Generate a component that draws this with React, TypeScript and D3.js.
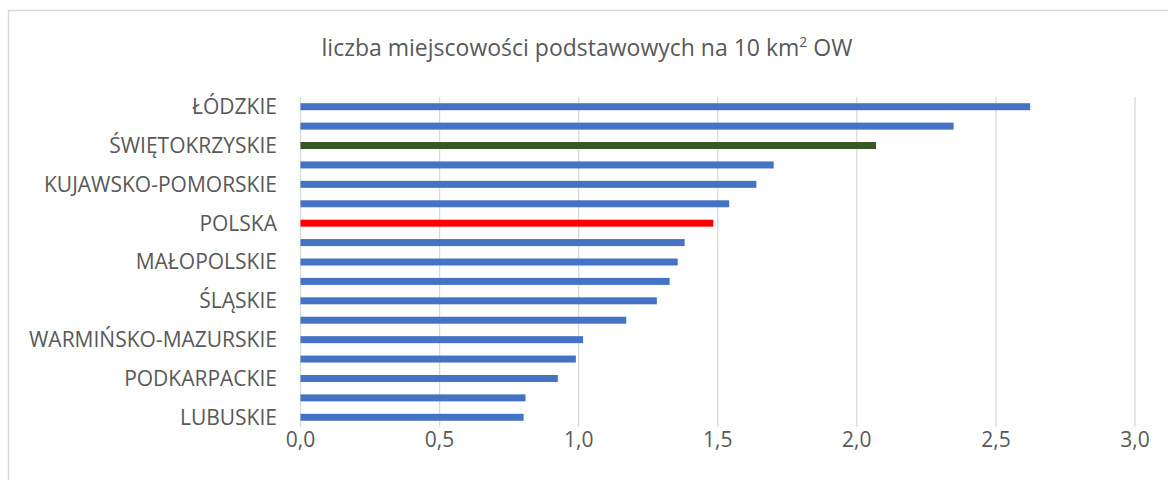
import React from "react";
import * as d3 from "d3";

const categories = [
  "ŁÓDZKIE",
  "MAZOWIECKIE",
  "ŚWIĘTOKRZYSKIE",
  "LUBELSKIE",
  "KUJAWSKO-POMORSKIE",
  "PODLASKIE",
  "POLSKA",
  "WIELKOPOLSKIE",
  "MAŁOPOLSKIE",
  "OPOLSKIE",
  "ŚLĄSKIE",
  "DOLNOŚLĄSKIE",
  "WARMIŃSKO-MAZURSKIE",
  "POMORSKIE",
  "PODKARPACKIE",
  "ZACHODNIOPOMORSKIE",
  "LUBUSKIE",
];

const values = [
  2.623, 2.348, 2.069, 1.701, 1.639, 1.541, 1.484, 1.381, 1.356, 1.327, 1.281,
  1.171, 1.016, 0.99, 0.925, 0.809, 0.802,
];

const xTicks = [0, 0.5, 1, 1.5, 2, 2.5, 3];
const xTickLabels = ["0,0", "0,5", "1,0", "1,5", "2,0", "2,5", "3,0"];

const highlightColors: Record<string, string> = {
  "POLSKA": "#FF0000",
  "ŚWIĘTOKRZYSKIE": "#385723",
};
const defaultColor = "#4472C4";

const W = 1168;
const H = 480;
const plotLeft = 300.5;
const plotRight = 1135;
const plotTop = 97;
const plotBottom = 427;
const FONT = "'Open Sans', 'Noto Sans', sans-serif";
const TEXT = "#595959";

export default function App() {
  const x = d3.scaleLinear().domain([0, 3]).range([plotLeft, plotRight]);
  const y = d3
    .scaleBand<string>()
    .domain(categories)
    .range([plotTop, plotBottom])
    .paddingInner(0.64)
    .paddingOuter(0.32);

  return (
    <svg
      width={W}
      height={H}
      style={{ position: "absolute", left: 0, top: 0, background: "#fff" }}
      fontFamily={FONT}
    >
      <rect x={0} y={0} width={W} height={H} fill="#fff" />
      <rect
        x={8.5}
        y={10.5}
        width={W + 20}
        height={H + 20}
        fill="none"
        stroke="#d9d9d9"
        strokeWidth={1.5}
      />
      <text x={587} y={56} textAnchor="middle" fontSize={23} fill={TEXT}>
        liczba miejscowości podstawowych na 10 km
        <tspan fontSize={14} dy={-9}>2</tspan>
        <tspan dy={9}> OW</tspan>
      </text>
      {xTicks.map((t) => (
        <line
          key={"g" + t}
          x1={x(t)}
          x2={x(t)}
          y1={plotTop}
          y2={plotBottom}
          stroke="#d9d9d9"
          strokeWidth={1.3}
        />
      ))}
      {categories.map((c, i) => (
        <rect
          key={c}
          x={x(0)}
          y={y(c)}
          width={x(values[i]) - x(0)}
          height={y.bandwidth()}
          fill={highlightColors[c] || defaultColor}
        />
      ))}
      {categories.map((c, i) =>
        i % 2 === 0 ? (
          <text
            key={"l" + c}
            x={277}
            y={(y(c) as number) + y.bandwidth() / 2}
            dy="0.35em"
            textAnchor="end"
            fontSize={21}
            fill={TEXT}
          >
            {c}
          </text>
        ) : null
      )}
      {xTicks.map((t, i) => (
        <text
          key={"t" + t}
          x={x(t)}
          y={440}
          dy="0.35em"
          textAnchor="middle"
          fontSize={21}
          fill={TEXT}
        >
          {xTickLabels[i]}
        </text>
      ))}
    </svg>
  );
}
